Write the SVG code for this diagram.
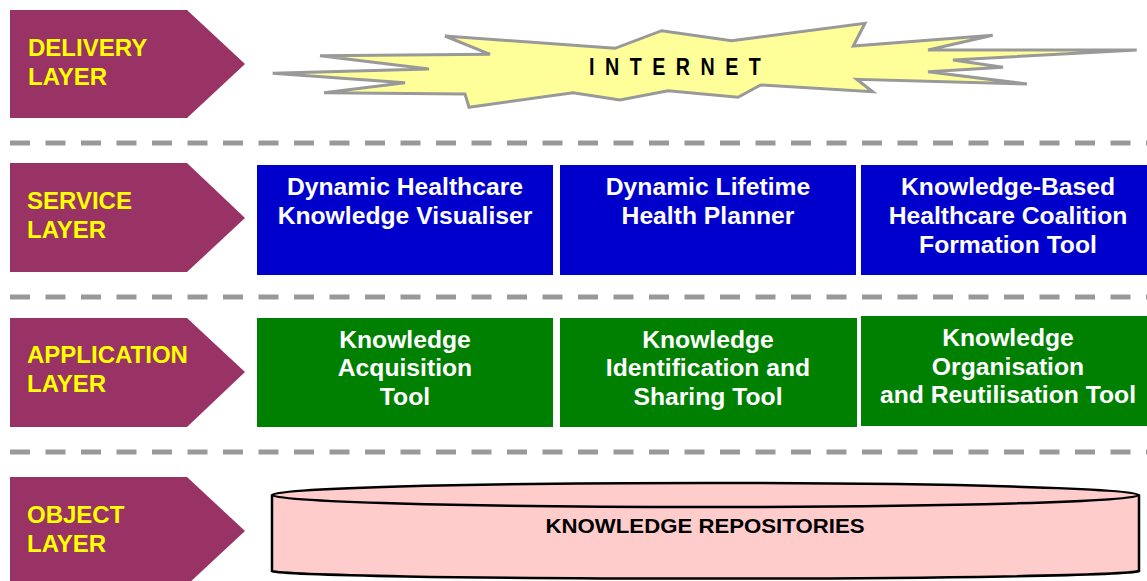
<svg xmlns="http://www.w3.org/2000/svg" width="1147" height="581" viewBox="0 0 1147 581">
<style>
.layer{fill:#993366}
.lt{font-family:"Liberation Sans",Arial,sans-serif;font-weight:bold;font-size:24px;fill:#FFFF00}
.bt{font-family:"Liberation Sans",Arial,sans-serif;font-weight:bold;font-size:24.7px;fill:#FFFFFF;text-anchor:middle}
.blue{fill:#0000CC}
.green{fill:#008000}
.dash{stroke:#999999;stroke-width:5;stroke-dasharray:20 15.5;fill:none}
</style>
<rect width="1147" height="581" fill="#FFFFFF"/>
<g id="separators">
<line class="dash" x1="10" y1="143" x2="1147" y2="143"/>
<line class="dash" x1="10" y1="297" x2="1147" y2="297"/>
<line class="dash" x1="10" y1="452" x2="1147" y2="452"/>
</g>
<g id="delivery-layer">
<path class="layer" d="M10,10 H187 L245,64 L187,118 H10 Z"/>
<text class="lt" x="28" y="56">DELIVERY</text>
<text class="lt" x="28" y="85">LAYER</text>
</g>
<g id="service-layer">
<path class="layer" d="M10,163 H187 L245,218 L187,272 H10 Z"/>
<text class="lt" x="27" y="209">SERVICE</text>
<text class="lt" x="27" y="238">LAYER</text>
</g>
<g id="application-layer">
<path class="layer" d="M10,318 H187 L245,372 L187,427 H10 Z"/>
<text class="lt" x="27" y="363">APPLICATION</text>
<text class="lt" x="27" y="392">LAYER</text>
</g>
<g id="object-layer">
<path class="layer" d="M10,477 H187 L245,531 L187,585 H10 Z"/>
<text class="lt" x="27" y="523">OBJECT</text>
<text class="lt" x="27" y="552">LAYER</text>
</g>
<g id="internet">
<polygon points="272.7,73.3 405,82.7 324,92.7 465,94 469,107.3 573,92.7 620,100 668,90.7 738,97.3 760.7,85 872.7,91.7 856.7,79.3 1027,84 928,71.7 1003,67.3 953,60 1136.7,50 928,50 992.7,35.3 853.3,46 865,23.3 731.7,40.7 661.7,30.7 615,48.3 445,36 490,54.3 320,55.7 429,69" fill="#FFFF99" stroke="#999999" stroke-width="3"/>
<text transform="translate(589,74.5) scale(0.82,1)" x="0" y="0" font-family="'Liberation Sans',Arial,sans-serif" font-weight="bold" font-size="24" letter-spacing="12.8" fill="#000000">INTERNET</text>
</g>
<g id="dynamic-healthcare-knowledge-visualiser">
<rect class="blue" x="257" y="165" width="296" height="110"/>
<text class="bt" x="405" y="195">Dynamic Healthcare</text>
<text class="bt" x="405" y="224">Knowledge Visualiser</text>
</g>
<g id="dynamic-lifetime-health-planner">
<rect class="blue" x="560" y="165" width="296" height="110"/>
<text class="bt" x="708" y="195">Dynamic Lifetime</text>
<text class="bt" x="708" y="224">Health Planner</text>
</g>
<g id="knowledge-based-healthcare-coalition-formation-tool">
<rect class="blue" x="861" y="165" width="286" height="110"/>
<text class="bt" x="1008" y="195">Knowledge-Based</text>
<text class="bt" x="1008" y="224">Healthcare Coalition</text>
<text class="bt" x="1008" y="253">Formation Tool</text>
</g>
<g id="knowledge-acquisition-tool">
<rect class="green" x="257" y="318" width="296" height="109"/>
<text class="bt" x="405" y="348">Knowledge</text>
<text class="bt" x="405" y="376">Acquisition</text>
<text class="bt" x="405" y="405">Tool</text>
</g>
<g id="knowledge-identification-sharing-tool">
<rect class="green" x="560" y="318" width="297" height="109"/>
<text class="bt" x="708" y="348">Knowledge</text>
<text class="bt" x="708" y="376">Identification and</text>
<text class="bt" x="708" y="405">Sharing Tool</text>
</g>
<g id="knowledge-organisation-reutilisation-tool">
<rect class="green" x="861" y="316" width="286" height="110"/>
<text class="bt" x="1008" y="346">Knowledge</text>
<text class="bt" x="1008" y="375">Organisation</text>
<text class="bt" x="1008" y="403">and Reutilisation Tool</text>
</g>
<g id="knowledge-repositories">
<path d="M272,495 V571 A434,8 0 0 0 1139,571 V495" fill="#FFCCCC" stroke="#000000" stroke-width="2.5"/>
<ellipse cx="705.5" cy="495" rx="433.5" ry="12" fill="#FFCCCC" stroke="#000000" stroke-width="2.5"/>
<text x="705" y="533" font-family="'Liberation Sans',Arial,sans-serif" font-weight="bold" font-size="21" text-anchor="middle" textLength="319" lengthAdjust="spacingAndGlyphs" fill="#000000">KNOWLEDGE REPOSITORIES</text>
</g>
<g id="connectors"></g>
</svg>
